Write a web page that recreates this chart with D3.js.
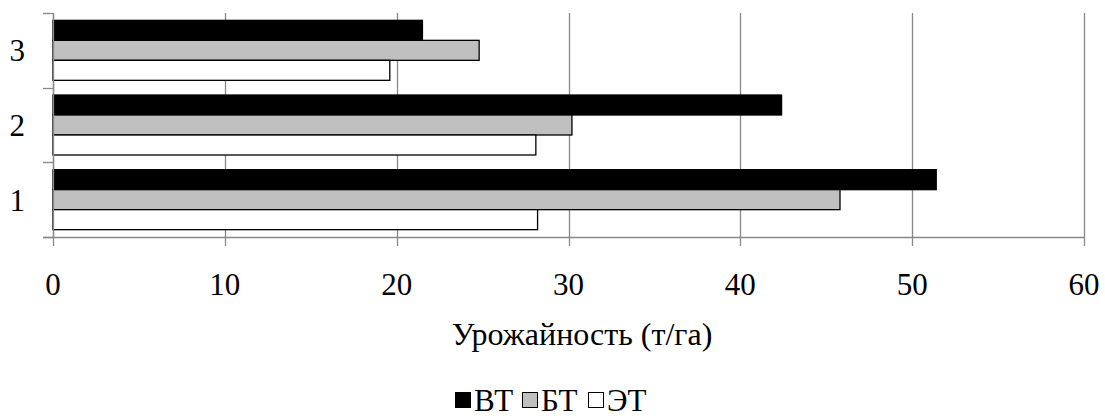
<!DOCTYPE html>
<html>
<head>
<meta charset="utf-8">
<script src="https://cdn.jsdelivr.net/npm/d3@7"></script>
<style>
  html, body { margin: 0; padding: 0; background: #fff; }
</style>
</head>
<body>
<svg id="chart" width="1105" height="419"></svg>
<script>
const categories = ["1", "2", "3"];
const seriesNames = ["ВТ", "БТ", "ЭТ"];
const valuesVT = [51.4, 42.4, 21.5]; // ВТ
const valuesBT = [45.8, 30.2, 24.8]; // БТ
const valuesET = [28.2, 28.1, 19.6]; // ЭТ
const xTicks = [0, 10, 20, 30, 40, 50, 60];
const axisTitle = "Урожайность (т/га)";

(function () {
const seriesValues = [valuesVT, valuesBT, valuesET];
const fills = ["#000000", "#c0c0c0", "#ffffff"];
const FONT = "'Liberation Serif', 'Times New Roman', serif";

const svg = d3.select("#chart");
const pLeft = 53, pRight = 1084, pTop = 13, pBottom = 237;
const fontSize = 31;

const x = d3.scaleLinear().domain([0, 60]).range([pLeft, pRight]);
const y = d3.scaleBand().domain(categories.slice().reverse()).range([pTop, pBottom]).paddingInner(0).paddingOuter(0);
const ySub = d3.scaleBand().domain(seriesNames).range([0, y.bandwidth()]).paddingInner(0).paddingOuter(0.367);

// gridlines
svg.append("g").selectAll("line").data(xTicks).join("line")
  .attr("x1", d => Math.round(x(d)) + 0.5).attr("x2", d => Math.round(x(d)) + 0.5)
  .attr("y1", pTop).attr("y2", pBottom + 9)
  .attr("stroke", "#888").attr("stroke-width", 1.3);

// bars
const data = [];
categories.forEach((c, i) => seriesNames.forEach((s, j) => data.push({c, s, v: seriesValues[j][i], fill: fills[j]})));
svg.append("g").selectAll("rect").data(data).join("rect")
  .attr("x", x(0))
  .attr("y", d => y(d.c) + ySub(d.s))
  .attr("width", d => x(d.v) - x(0))
  .attr("height", ySub.bandwidth())
  .attr("fill", d => d.fill)
  .attr("stroke", "#000").attr("stroke-width", 1.3);

// x axis line
svg.append("line").attr("x1", pLeft - 10).attr("x2", pRight).attr("y1", pBottom + 0.5).attr("y2", pBottom + 0.5)
  .attr("stroke", "#888").attr("stroke-width", 1.3);
// y axis line
svg.append("line").attr("x1", pLeft + 0.5).attr("x2", pLeft + 0.5).attr("y1", pTop).attr("y2", pBottom)
  .attr("stroke", "#888").attr("stroke-width", 1.3);
// y category boundary ticks
const bounds = categories.slice().reverse().map(c => y(c)).concat([pBottom]);
svg.append("g").selectAll("line").data(bounds).join("line")
  .attr("x1", pLeft - 10).attr("x2", pLeft)
  .attr("y1", d => Math.round(d) + 0.5).attr("y2", d => Math.round(d) + 0.5)
  .attr("stroke", "#888").attr("stroke-width", 1.3);

// x tick labels
svg.append("g").selectAll("text").data(xTicks).join("text")
  .attr("x", d => x(d)).attr("y", 295)
  .attr("text-anchor", "middle").attr("font-size", fontSize).attr("font-family", FONT)
  .text(d => d);

// y labels
svg.append("g").selectAll("text").data(categories).join("text")
  .attr("x", 25).attr("y", d => y(d) + y.bandwidth() / 2 + 11)
  .attr("text-anchor", "end").attr("font-size", fontSize).attr("font-family", FONT)
  .text(d => d);

// axis title
svg.append("text").attr("x", 582).attr("y", 345)
  .attr("text-anchor", "middle").attr("font-size", 32).attr("font-family", FONT)
  .text(axisTitle);

// legend
const legendX = [455, 522, 588];
const lg = svg.append("g").selectAll("g").data(seriesNames).join("g");
lg.append("rect")
  .attr("x", (d, i) => legendX[i] + 0.5).attr("y", 392.5)
  .attr("width", 15).attr("height", 15)
  .attr("fill", (d, i) => fills[i]).attr("stroke", "#000").attr("stroke-width", 1);
lg.append("text")
  .attr("x", (d, i) => legendX[i] + 19).attr("y", 411)
  .attr("font-size", fontSize).attr("font-family", FONT)
  .text(d => d);
})();
</script>
</body>
</html>
